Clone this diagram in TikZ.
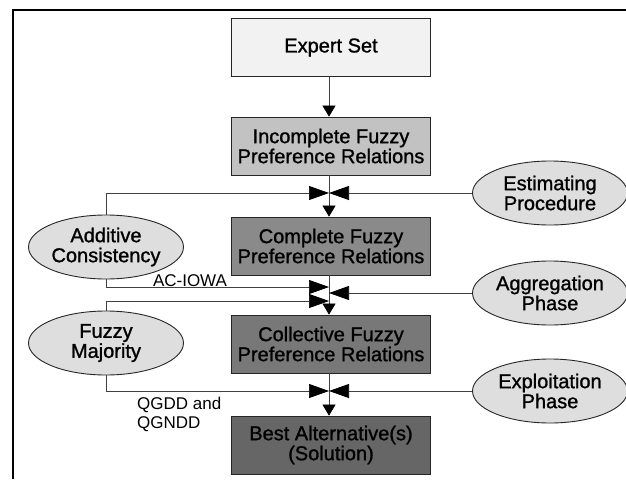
\documentclass[tikz,border=0pt]{standalone}
\usepackage{fontspec}
\setmainfont{Liberation Sans}
\newfontfamily\diagfont{Liberation Sans}[FakeBold=1.2]
\usetikzlibrary{shapes.geometric,arrows.meta}
\definecolor{expgray}{gray}{0.95}
\definecolor{incgray}{gray}{0.76}
\definecolor{comgray}{gray}{0.54}
\definecolor{colgray}{gray}{0.47}
\definecolor{bestgray}{gray}{0.40}
\definecolor{ellgray}{gray}{0.87}
\newcommand\mainfnt{\diagfont\fontsize{20}{20}\selectfont}
\newcommand\lblfnt{\fontsize{17}{19}\selectfont}
\begin{document}
\begin{tikzpicture}[x=1pt,y=-1pt,
  box/.style={draw=black!85,line width=0.8pt,minimum width=199pt,minimum height=58pt,inner sep=0pt,align=center,font=\mainfnt},
  oval/.style={ellipse,draw=black!85,line width=0.9pt,fill=ellgray,minimum width=155pt,minimum height=64pt,inner sep=0pt,align=center,font=\mainfnt},
  conn/.style={draw=black!75,line width=0.7pt},
  big/.style={-{Triangle[length=20pt,width=14pt,black]}},
  down/.style={-{Triangle[length=11pt,width=13pt,black]}},
  lbl/.style={font=\lblfnt,inner sep=0pt}]
\useasboundingbox (0,0) rectangle (626,479);
\fill[white] (0,0) rectangle (626,479);
\draw[line width=1.5pt] (13,479) -- (13,10) -- (626,10);

\node[box,fill=expgray] (expert) at (331,47.5) {Expert Set};
\node[box,fill=incgray] (incomplete) at (331,146) {Incomplete Fuzzy\\Preference Relations};
\node[box,fill=comgray] (complete) at (331,246) {Complete Fuzzy\\Preference Relations};
\node[box,fill=colgray] (collective) at (331,344) {Collective Fuzzy\\Preference Relations};
\node[box,fill=bestgray] (best) at (331,445) {Best Alternative(s)\\(Solution)};

\node[oval] (additive) at (106,247) {Additive\\Consistency};
\node[oval] (majority) at (106,343) {Fuzzy\\Majority};
\node[oval] (estimating) at (550,193) {Estimating\\Procedure};
\node[oval] (aggregation) at (550,293) {Aggregation\\Phase};
\node[oval] (exploitation) at (550,391) {Exploitation\\Phase};

\coordinate (j1) at (329,193);
\coordinate (j2a) at (329,287);
\coordinate (j2b) at (329,293);
\coordinate (j2c) at (329,301);
\coordinate (j3) at (329,391);

\draw[conn,down] (expert.south -| j1) -- (incomplete.north -| j1);
\draw[conn,down] (incomplete.south -| j1) -- (complete.north -| j1);
\draw[conn,down] (complete.south -| j1) -- (collective.north -| j1);
\draw[conn,down] (collective.south -| j1) -- (best.north -| j1);

\draw[conn,big] (additive.north) |- (j1);
\draw[conn,big] (estimating.west) -- (j1);
\draw[conn,big] (additive.south) |- (j2a);
\draw[conn,big] (aggregation.west) -- (j2b);
\draw[conn,big] (majority.north) |- (j2c);
\draw[conn,big] (majority.south) |- (j3);
\draw[conn,big] (exploitation.west) -- (j3);

\node[lbl,anchor=base] (aciowa) at (190,286) {AC-IOWA};
\node[lbl,anchor=north west,align=left] (qgdd) at (137,397) {QGDD and\\QGNDD};
\end{tikzpicture}
\end{document}
